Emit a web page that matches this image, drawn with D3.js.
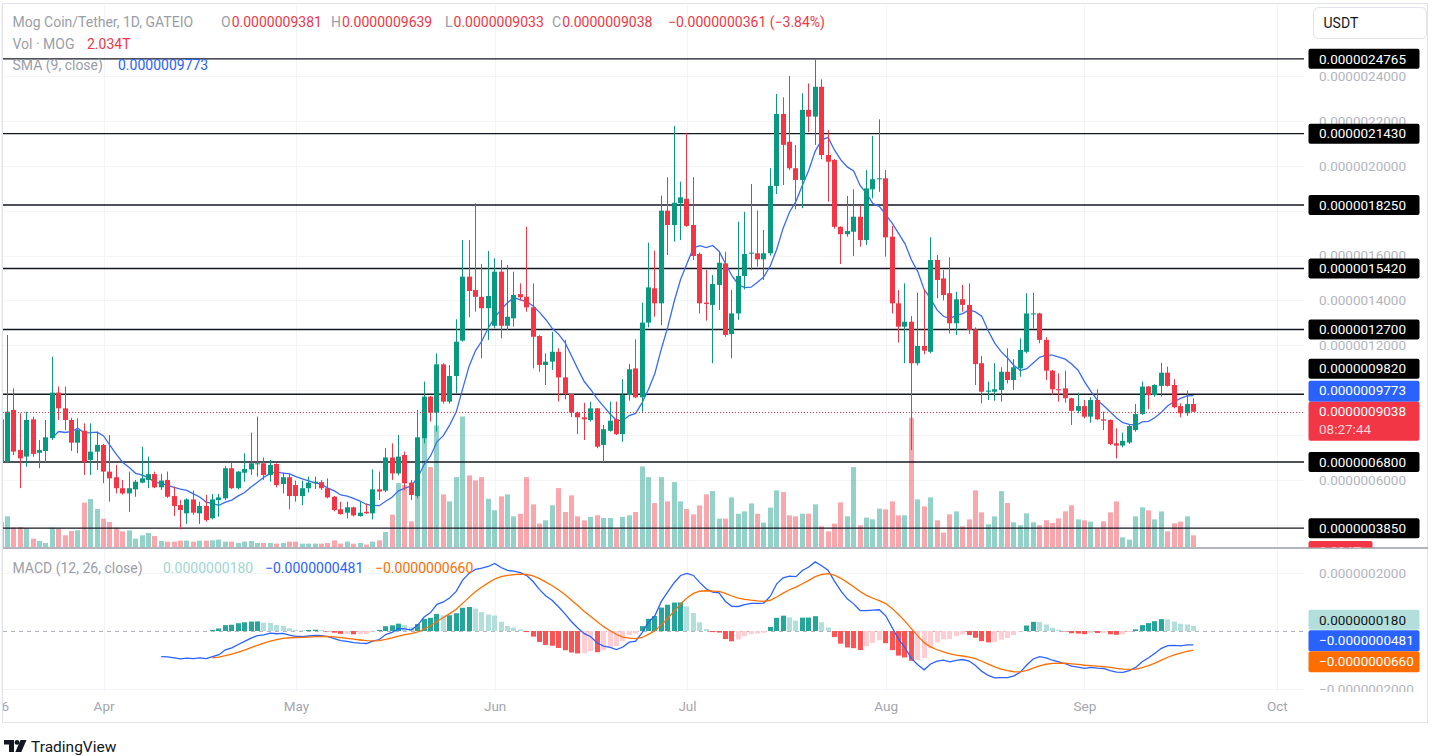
<!DOCTYPE html>
<html><head><meta charset="utf-8">
<script src="https://cdn.jsdelivr.net/npm/d3@7/dist/d3.min.js"></script>
<style>
html,body{margin:0;padding:0;background:#ffffff;overflow:hidden}
svg{display:block;font-family:Roboto,"Liberation Sans",Arial,sans-serif}
</style></head><body>
<svg id="chart" width="1433" height="756"></svg>
<script>
// ---------------- DATA (prices in 1e-6 USDT, volume in T MOG) ----------------
const firstDay = "2024-03-16";
const opens = [
 .870,.681,.912,.733,.704,.870,.721,.729,.786,.989,.919,.867,.766,.819,.689,.726,
 .756,.637,.612,.563,.540,.558,.588,.600,.626,.567,.600,.528,.488,.451,.513,.451,.484,.429,.510,.518,.652,.563,.632,.647,.671,.674,.622,.671,.582,.612,
 .577,.528,.563,.585,.590,.563,.525,.469,.454,.478,.439,.458,.451,.558,.552,.700,.629,.711,.588,.528,.786,.971,.900,1.115,.949,1.063,1.221,1.506,1.446,1.416,1.365,
 1.287,1.528,1.287,1.320,1.428,1.416,1.369,1.241,1.112,1.127,1.171,1.057,.983,.900,.879,.867,.919,.756,.819,.870,.804,.978,1.097,.968,1.301,1.454,1.387,1.800,1.736,1.833,
 1.853,1.736,1.607,1.390,1.380,1.469,1.565,1.250,1.342,1.509,1.610,1.610,1.583,1.610,1.910,2.231,2.107,1.989,1.937,2.249,2.219,2.352,2.048,2.026,1.728,1.695,1.706,1.773,1.669,1.895,1.940,
 1.944,1.684,1.387,1.283,1.305,1.120,1.197,1.171,1.580,1.498,1.432,1.298,1.405,1.380,1.271,1.120,.993,.993,1.001,1.082,1.045,1.097,1.171,1.340,1.342,1.224,1.087,1.004,1.008,.964,.908,
 .929,.882,.956,.870,.867,.763,.753,.767,.822,.894,1.016,.978,1.019,1.078,1.023,.929,.897,.9381
];
const highs = [
 .900,1.246,1.008,.897,.904,.882,.778,.867,1.149,1.016,1.016,.877,.875,.852,.852,.815,
 .760,.800,.667,.600,.637,.600,.748,.704,.637,.626,.637,.570,.510,.518,.552,.503,.533,.537,.537,.662,.677,.640,.719,.811,.882,.700,.689,.674,.632,.629,
 .597,.597,.615,.615,.600,.607,.528,.503,.503,.481,.503,.495,.647,.637,.741,.763,.800,.726,.600,.912,1.038,.974,1.164,1.120,1.112,1.316,1.669,1.669,1.833,1.562,1.620,
 1.588,1.580,1.558,1.528,1.476,1.728,1.476,1.245,1.164,1.260,1.187,1.224,.985,.905,.944,.949,.920,.845,.949,.949,1.049,1.117,1.227,1.390,1.657,1.622,1.867,1.949,2.177,1.929,
 2.145,1.949,1.613,1.535,1.513,1.617,1.617,1.446,1.751,1.795,1.919,1.800,1.714,1.989,2.320,2.305,2.400,2.093,2.323,2.367,2.474,2.385,2.159,2.030,1.730,1.865,1.895,1.825,1.981,2.133,2.207,
 1.981,1.732,1.446,1.476,1.330,1.434,1.449,1.681,1.602,1.535,1.592,1.439,1.469,1.476,1.280,1.152,1.038,1.120,1.102,1.187,1.138,1.231,1.432,1.434,1.345,1.236,1.090,1.075,1.087,.966,.989,
 .956,.968,1.004,.904,.870,.830,.811,.845,.938,1.038,1.019,1.027,1.122,1.105,1.049,.941,.998,.9639
];
const lows = [
 .660,.675,.711,.563,.659,.704,.652,.677,.778,.867,.822,.729,.719,.622,.622,.644,
 .585,.503,.540,.535,.458,.525,.585,.563,.563,.555,.520,.439,.380,.404,.445,.404,.414,.424,.436,.510,.560,.558,.592,.622,.615,.600,.592,.567,.540,.469,
 .503,.488,.543,.560,.555,.518,.460,.445,.429,.437,.436,.448,.424,.510,.545,.600,.620,.555,.510,.518,.763,.860,.815,.940,.940,.986,1.216,1.325,1.350,1.142,1.224,
 1.276,1.231,1.268,1.283,1.400,1.350,1.097,1.082,1.023,1.090,.949,.959,.880,.804,.778,.860,.741,.681,.815,.800,.770,.953,.964,.904,1.280,1.327,1.290,1.602,1.662,1.669,
 1.728,1.580,1.342,1.310,1.120,1.357,1.238,1.142,1.313,1.449,1.535,1.550,1.491,1.600,1.874,1.914,1.981,1.806,1.811,2.150,2.093,2.029,1.840,1.720,1.562,1.684,1.598,1.639,1.647,1.855,1.884,
 1.595,1.342,1.212,1.120,.733,1.110,1.160,1.164,1.409,1.400,1.253,1.246,1.350,1.250,1.023,.941,.956,.953,.949,1.030,1.001,1.060,1.164,1.276,1.209,1.045,.978,.949,.944,.845,.897,
 .875,.855,.867,.822,.755,.696,.745,.760,.815,.889,.915,.971,.971,1.016,.919,.879,.885,.9033
];
const closes = [
 .680,.904,.726,.696,.867,.716,.733,.790,.989,.919,.867,.766,.822,.681,.726,.756,
 .637,.607,.563,.540,.563,.592,.607,.626,.567,.597,.525,.484,.466,.513,.454,.484,.421,.513,.522,.652,.563,.637,.649,.674,.674,.622,.667,.577,.612,.528,
 .528,.563,.588,.592,.563,.522,.466,.448,.478,.442,.454,.451,.558,.548,.700,.629,.704,.585,.533,.790,.971,.900,1.115,.949,1.063,1.216,1.506,1.442,1.416,1.365,1.420,
 1.528,1.287,1.327,1.424,1.414,1.369,1.238,1.112,1.127,1.171,1.057,.982,.900,.879,.870,.919,.748,.826,.864,.804,.978,1.093,.968,1.301,1.458,1.387,1.800,1.736,1.835,1.859,
 1.732,1.598,1.387,1.384,1.473,1.568,1.246,1.342,1.509,1.607,1.613,1.583,1.610,1.910,2.231,2.093,1.989,1.937,2.249,2.219,2.352,2.048,2.018,1.728,1.695,1.709,1.773,1.669,1.899,1.940,1.944,
 1.681,1.387,1.283,1.305,1.120,1.197,1.176,1.580,1.491,1.424,1.298,1.405,1.380,1.268,1.116,.993,.998,1.004,1.082,1.045,1.102,1.179,1.342,1.342,1.224,1.087,1.004,1.000,.964,.908,.929,
 .882,.956,.870,.864,.760,.753,.774,.840,.894,1.016,.978,1.023,1.078,1.019,.924,.897,.938,.9038
];
const volumes = [
 4.35,5.34,3.38,3.48,3.31,1.46,1.04,0.70,3.38,3.20,2.04,2.78,2.91,7.73,8.35,6.61,
 4.94,4.35,3.38,2.73,2.91,1.46,2.04,2.44,1.91,1.04,0.94,0.94,1.11,1.11,0.94,1.11,1.11,1.17,1.29,0.94,0.94,0.70,0.94,1.04,0.70,0.70,0.70,0.59,0.70,0.94,
 0.94,0.59,0.59,0.59,0.59,0.70,1.17,0.59,0.94,0.59,0.70,0.42,0.94,1.17,2.61,5.64,11.14,10.79,4.47,9.57,19.14,13.92,21.18,9.17,7.95,12.18,22.74,12.48,11.61,12.18,8.40,
 6.39,8.82,9.17,5.34,5.79,12.18,7.43,4.07,4.65,7.26,10.27,6.09,9.00,5.34,4.65,5.22,5.52,5.05,5.05,3.13,5.22,5.52,6.09,14.04,12.18,7.66,12.18,7.95,11.31,7.95,
 6.61,5.69,7.26,9.17,9.74,4.94,4.94,8.65,5.79,6.21,7.60,5.79,4.25,6.86,9.87,9.57,5.52,5.34,5.81,5.81,7.43,3.60,2.73,4.07,7.78,5.34,13.92,3.78,5.12,4.82,6.68,
 6.56,7.95,5.52,5.52,22.52,8.30,7.08,8.65,4.65,2.51,5.69,6.21,3.60,4.82,9.87,6.04,3.95,5.34,9.74,7.66,4.30,3.78,5.86,4.30,3.78,4.65,4.18,4.99,6.21,7.26,4.82,
 4.65,4.42,3.20,4.47,6.04,7.95,1.69,1.29,5.34,6.91,6.39,4.82,6.21,2.73,4.12,4.42,5.34,2.034
];
const levelLines = [2.4765, 2.1430, 1.8250, 1.5420, 1.2700, 0.9820, 0.6800, 0.3850];
const priceTicks = [0.4,0.6,0.8,1.0,1.2,1.4,1.6,1.8,2.0,2.2,2.4];
const timeTickDates = ["2024-03-16","2024-04-01","2024-05-01","2024-06-01","2024-07-01","2024-08-01","2024-09-01","2024-10-01"];
const timeTickLabels = ["16","Apr","May","Jun","Jul","Aug","Sep","Oct"];
const macdTicks = [0.2, -0.2];
const macdLegend = [0.0180, -0.0481, -0.0660];
const smaLegend = 0.9773;
const changeText = "\u22120.0000000361 (\u22123.84%)";
const volLegend = "2.034T";
const countdown = "08:27:44";

// ---------------- SETUP ----------------
const C = {up:"#089981", down:"#F23645", upVol:"rgba(8,153,129,0.44)", downVol:"rgba(242,54,69,0.44)",
  sma:"#3a6cf4", macd:"#2962FF", signal:"#FF6D00", gA:"#26A69A", fA:"#B2DFDB", gB:"#FFCDD2", fB:"#FF5252",
  grid:"#f3f4f7", axisText:"#b2b5be", legend:"#9a9ea8"};
const svg = d3.select("#chart");
const parse = d3.utcParse("%Y-%m-%d");
const d0 = parse(firstDay);
const N = closes.length;
const bars = d3.range(N).map(i => ({date:d3.utcDay.offset(d0,i), o:opens[i], h:highs[i], l:lows[i], c:closes[i], v:volumes[i]}));

const plotL = 3, plotR = 1304, pTop = 5, pBot = 547, mTop = 549, mBot = 692;
const x = d3.scaleUtc().domain([parse("2024-03-16"), parse("2024-10-01")]).range([1.0, 1276.8]);
const yP = d3.scaleLinear().domain([0.4, 2.4]).range([524.8, 76]);
const yV = d3.scaleLinear().domain([0, 23]).range([pBot, 415]);
const yM = d3.scaleLinear().domain([-0.2, 0.2]).range([689, 573]);
const fmt = v => (v < 0 ? "\u2212" : "") + (Math.abs(v) * 1e-6).toFixed(10);

// indicators computed from the closes
const sma9 = closes.map((c,i) => i < 8 ? null : d3.mean(closes.slice(i-8, i+1)));
function ema(src, n){
  const a = 2/(n+1), out = new Array(src.length).fill(null); let prev = null; const buf = [];
  src.forEach((v,i) => {
    if (v == null) return;
    if (prev == null){ buf.push(v); if (buf.length === n){ prev = d3.mean(buf); out[i] = prev; } }
    else { prev = a*v + (1-a)*prev; out[i] = prev; }
  });
  return out;
}
const e12 = ema(closes,12), e26 = ema(closes,26);
const macd = closes.map((c,i) => (e12[i]==null || e26[i]==null) ? null : e12[i]-e26[i]);
const signal = ema(macd, 9);
const hist = macd.map((m,i) => (m==null || signal[i]==null) ? null : m - signal[i]);

// ---------------- DEFS ----------------
const defs = svg.append("defs");
defs.append("clipPath").attr("id","clipP").append("rect").attr("x",plotL).attr("y",pTop).attr("width",plotR-plotL).attr("height",pBot-pTop);
defs.append("clipPath").attr("id","clipM").append("rect").attr("x",plotL).attr("y",mTop).attr("width",plotR-plotL).attr("height",mBot-mTop);
defs.append("clipPath").attr("id","clipPA").append("rect").attr("x",plotR).attr("y",pTop).attr("width",130).attr("height",pBot-pTop+0.5);
defs.append("clipPath").attr("id","clipMA").append("rect").attr("x",plotR).attr("y",mTop).attr("width",130).attr("height",mBot-mTop);
defs.append("clipPath").attr("id","clipT").append("rect").attr("x",plotL).attr("y",mBot).attr("width",plotR-plotL).attr("height",30);

svg.append("rect").attr("width",1433).attr("height",756).attr("fill","#fff");

// ---------------- GRID ----------------
const grid = svg.append("g");
timeTickDates.forEach(s => {
  const gx = Math.round(x(parse(s))) + 0.5;
  grid.append("line").attr("x1",gx).attr("x2",gx).attr("y1",pTop).attr("y2",mBot).attr("stroke",C.grid);
});
priceTicks.forEach(t => grid.append("line").attr("x1",plotL).attr("x2",plotR).attr("y1",Math.round(yP(t))+0.5).attr("y2",Math.round(yP(t))+0.5).attr("stroke",C.grid));
macdTicks.forEach(t => grid.append("line").attr("x1",plotL).attr("x2",plotR).attr("y1",Math.round(yM(t))+0.5).attr("y2",Math.round(yM(t))+0.5).attr("stroke",C.grid));

// ---------------- PRICE PANE ----------------
const gp = svg.append("g").attr("clip-path","url(#clipP)");
const bw = 5;
const bx = d => Math.round(x(d.date) - bw/2);
gp.append("g").selectAll("rect").data(bars).join("rect")
  .attr("x", bx).attr("width", bw)
  .attr("y", d => yV(d.v)).attr("height", d => yV(0) - yV(d.v))
  .attr("fill", d => d.c >= d.o ? C.upVol : C.downVol);

gp.append("g").selectAll("line").data(levelLines).join("line")
  .attr("x1",plotL).attr("x2",1310).attr("y1",d=>yP(d)).attr("y2",d=>yP(d))
  .attr("stroke","#131722").attr("stroke-width",1.4);

gp.append("path").datum(bars.map((b,i)=>({date:b.date, v:sma9[i]})))
  .attr("fill","none").attr("stroke",C.sma).attr("stroke-width",1.3)
  .attr("d", d3.line().defined(d=>d.v!=null).x(d=>x(d.date)).y(d=>yP(d.v)));

const cg = gp.append("g");
cg.selectAll("rect.w").data(bars).join("rect").attr("class","w")
  .attr("x", d => bx(d) + 2).attr("width", 1)
  .attr("y", d => yP(d.h)).attr("height", d => Math.max(1, yP(d.l) - yP(d.h)))
  .attr("fill", d => d.c >= d.o ? C.up : C.down);
cg.selectAll("rect.b").data(bars).join("rect").attr("class","b")
  .attr("x", bx).attr("width", bw)
  .attr("y", d => yP(Math.max(d.o,d.c))).attr("height", d => Math.max(1, Math.abs(yP(d.o)-yP(d.c))))
  .attr("fill", d => d.c >= d.o ? C.up : C.down);

const lastC = closes[N-1];
gp.append("line").attr("x1",plotL).attr("x2",plotR).attr("y1",Math.round(yP(lastC))+0.5).attr("y2",Math.round(yP(lastC))+0.5)
  .attr("stroke",C.down).attr("stroke-width",1).attr("stroke-dasharray","1,2");

// ---------------- MACD PANE ----------------
const gm = svg.append("g").attr("clip-path","url(#clipM)");
gm.append("line").attr("x1",plotL).attr("x2",plotR).attr("y1",Math.round(yM(0))+0.5).attr("y2",Math.round(yM(0))+0.5)
  .attr("stroke","#b2b5be").attr("stroke-dasharray","4,4");
const hb = bars.map((b,i)=>({date:b.date, h:hist[i], p: i>0 ? hist[i-1] : null})).filter(d=>d.h!=null);
gm.append("g").selectAll("rect").data(hb).join("rect")
  .attr("x", bx).attr("width", bw)
  .attr("y", d => Math.min(yM(0), yM(d.h))).attr("height", d => Math.max(0.5, Math.abs(yM(d.h)-yM(0))))
  .attr("fill", d => d.h >= 0 ? ((d.p==null || d.p < d.h) ? C.gA : C.fA) : ((d.p!=null && d.p < d.h) ? C.gB : C.fB));
gm.append("path").datum(bars.map((b,i)=>({date:b.date, v:macd[i]})))
  .attr("fill","none").attr("stroke",C.macd).attr("stroke-width",1.3)
  .attr("d", d3.line().defined(d=>d.v!=null).x(d=>x(d.date)).y(d=>yM(d.v)));
gm.append("path").datum(bars.map((b,i)=>({date:b.date, v:signal[i]})))
  .attr("fill","none").attr("stroke",C.signal).attr("stroke-width",1.3)
  .attr("d", d3.line().defined(d=>d.v!=null).x(d=>x(d.date)).y(d=>yM(d.v)));

// ---------------- FRAME / SEPARATORS ----------------
svg.append("rect").attr("x",2.5).attr("y",3.5).attr("width",1425).attr("height",719).attr("fill","none").attr("stroke","#e0e3eb");
svg.append("line").attr("x1",plotL).attr("x2",1428).attr("y1",548).attr("y2",548).attr("stroke","#b2b5be").attr("stroke-width",2);

// ---------------- LABEL POSITIONS (last price stack) ----------------
const lastY = yP(lastC);
const redTop = lastY - 10;
const blueTop = redTop - 21;
const stackTop = blueTop - 22;
const labelBoxes = levelLines.map(v => v === 0.9820 ? [stackTop, stackTop+20] : [yP(v)-10, yP(v)+10])
  .concat([[blueTop, blueTop+21], [redTop, redTop+39]]);
// ticks hidden completely behind a label are not drawn
const visibleTicks = priceTicks.filter(t => !labelBoxes.some(([a,b]) => yP(t) > a+2 && yP(t) < b-2));

// ---------------- AXES ----------------
const gPA = svg.append("g").attr("clip-path","url(#clipPA)").append("g").attr("transform",`translate(${plotR+6},0)`)
  .call(d3.axisRight(yP).tickValues(visibleTicks).tickFormat(fmt).tickSize(0).tickPadding(9));
gPA.select(".domain").remove();
gPA.selectAll("text").attr("font-size",13.5).attr("fill",C.axisText).attr("font-family","Roboto, sans-serif");

const gMA = svg.append("g").attr("clip-path","url(#clipMA)").append("g").attr("transform",`translate(${plotR+6},0)`)
  .call(d3.axisRight(yM).tickValues(macdTicks).tickFormat(fmt).tickSize(0).tickPadding(9));
gMA.select(".domain").remove();
gMA.selectAll("text").attr("font-size",13.5).attr("fill",C.axisText).attr("font-family","Roboto, sans-serif");

const gTA = svg.append("g").attr("clip-path","url(#clipT)").append("g").attr("transform",`translate(0,${mBot+5})`)
  .call(d3.axisBottom(x).tickValues(timeTickDates.map(parse)).tickFormat((d,i)=>timeTickLabels[i]).tickSize(0).tickPadding(4));
gTA.select(".domain").remove();
gTA.selectAll("text").attr("font-size",13.5).attr("fill","#a3a6af").attr("font-family","Roboto, sans-serif").attr("dy","0.71em");

// ---------------- AXIS LABELS ----------------
const lab = svg.append("g").attr("font-size",13.5).attr("font-family","Roboto, sans-serif");
function label(yc, h, fill, lines, tcol){
  const g = lab.append("g");
  g.append("rect").attr("x",1308.5).attr("y",yc-h/2).attr("width",111).attr("height",h).attr("rx",2).attr("fill",fill);
  lines.forEach((t,k)=> g.append("text").attr("x",1319).attr("y", yc - h/2 + 10 + k*18).attr("dy","0.35em").attr("fill",tcol[k]||tcol[0]).text(t));
}
levelLines.forEach(v => {
  const yc = v === 0.9820 ? stackTop + 10 : yP(v);
  label(yc, 20, "#000", [fmt(v)], ["#fff"]);
});
label(blueTop + 10.5, 21, "#2962FF", [fmt(smaLegend)], ["#fff"]);
label(redTop + 19.5, 39, C.down, [fmt(lastC), countdown], ["#fff","rgba(255,255,255,0.78)"]);
const vg = lab.append("g").attr("clip-path","url(#clipPA)");
vg.append("rect").attr("x",1308.5).attr("y",541).attr("width",64).attr("height",20).attr("rx",2).attr("fill",C.down);
vg.append("text").attr("x",1319).attr("y",551).attr("dy","0.35em").attr("fill","#fff").text(volLegend);

const mh = macdLegend[0], mm = macdLegend[1], ms = macdLegend[2];
const tealC = yM(mh) - 6;
label(tealC, 20, "#B2DFDB", [fmt(mh)], ["#131722"]);
const blueC = tealC + 21;
label(blueC, 21, "#2962FF", [fmt(mm)], ["#fff"]);
label(blueC + 21, 21, "#FF6D00", [fmt(ms)], ["#fff"]);

// ---------------- LEGENDS ----------------
const lg = svg.append("g").attr("font-size",14).attr("font-family","Roboto, sans-serif");
const l1 = lg.append("text").attr("x",12.5).attr("y",27).attr("fill",C.legend);
l1.append("tspan").text("Mog Coin/Tether, 1D, GATEIO");
[["O",opens[N-1],221],["H",highs[N-1],331],["L",lows[N-1],445],["C",closes[N-1],552]].forEach(([k,v,px]) => {
  l1.append("tspan").attr("x",px).attr("fill",C.legend).text(k);
  l1.append("tspan").attr("dx",1).attr("fill",C.down).text(fmt(v));
});
l1.append("tspan").attr("x",668).attr("fill",C.down).text(changeText);

const l2 = lg.append("text").attr("x",12.5).attr("y",49).attr("fill",C.legend);
l2.append("tspan").text("Vol \u00b7 MOG");
l2.append("tspan").attr("x",87).attr("fill",C.down).text(volLegend);

const l3 = lg.append("text").attr("x",12.5).attr("y",70).attr("fill",C.legend);
l3.append("tspan").text("SMA (9, close)");
l3.append("tspan").attr("x",118).attr("fill",C.macd).text(fmt(smaLegend));

const l4 = lg.append("text").attr("x",12.5).attr("y",573).attr("fill",C.legend);
l4.append("tspan").text("MACD (12, 26, close)");
l4.append("tspan").attr("x",163).attr("fill","#9fd6cf").text(fmt(macdLegend[0]));
l4.append("tspan").attr("x",265).attr("fill",C.macd).text(fmt(macdLegend[1]));
l4.append("tspan").attr("x",375).attr("fill",C.signal).text(fmt(macdLegend[2]));

// ---------------- USDT BUTTON ----------------
svg.append("rect").attr("x",1313.5).attr("y",7.5).attr("width",113).attr("height",31).attr("rx",5)
  .attr("fill","#fff").attr("stroke","#e0e3eb");
svg.append("text").attr("x",1323.5).attr("y",23).attr("dy","0.35em").attr("font-size",14)
  .attr("font-family","Roboto, sans-serif").attr("fill","#131722").text("USDT");

// ---------------- LOGO ----------------
const logo = svg.append("g").attr("fill","#131722");
logo.append("path").attr("d","M4,740 h10 v12 h-5 v-7.5 h-5 z");
logo.append("circle").attr("cx",17).attr("cy",742.4).attr("r",2.4);
logo.append("path").attr("d","M20.5,740 h6 l-5.2,12 h-6 z");
svg.append("text").attr("x",31).attr("y",752).attr("font-size",15.5).attr("font-family","Roboto, sans-serif")
  .attr("fill","#131722").text("TradingView");
</script>
</body></html>
